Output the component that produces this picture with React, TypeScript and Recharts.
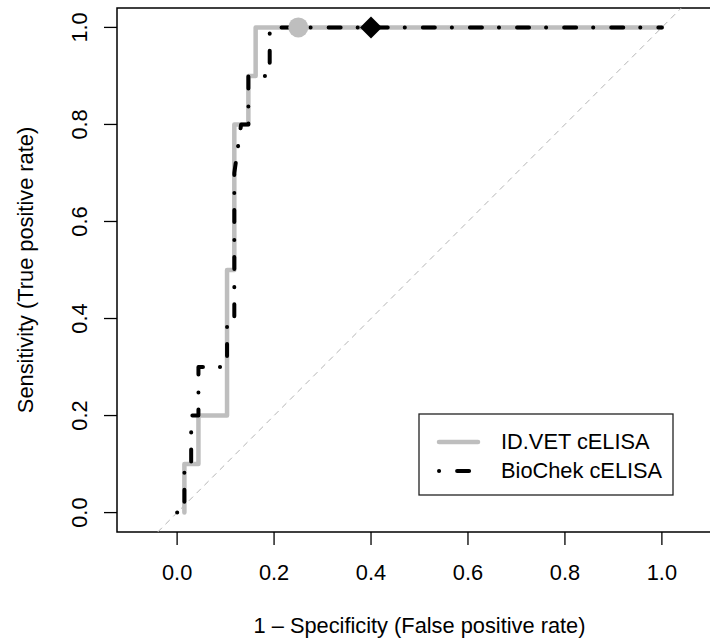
import { LineChart, Line, XAxis, YAxis, Scatter, ReferenceLine, ReferenceArea, Legend, Label } from "recharts"

// ROC curve vertices
const fprIdvet = [0.015, 0.015, 0.044, 0.044, 0.103, 0.103, 0.118, 0.118, 0.147, 0.147, 0.162, 0.162, 1.0]
const tprIdvet = [0, 0.1, 0.1, 0.2, 0.2, 0.5, 0.5, 0.8, 0.8, 0.9, 0.9, 1.0, 1.0]

const fprBiochek = [0, 0.015, 0.015, 0.029, 0.029, 0.044, 0.044, 0.103, 0.103, 0.118, 0.118, 0.132, 0.147, 0.147, 0.191, 0.191, 1.0]
const tprBiochek = [0, 0, 0.1, 0.1, 0.2, 0.2, 0.3, 0.3, 0.4, 0.4, 0.7, 0.8, 0.8, 0.9, 0.9, 1.0, 1.0]

// best thresholds
const idvetBest = [{ x: 0.25, y: 1.0 }]
const biochekBest = [{ x: 0.4, y: 1.0 }]

const ticks = [0, 0.2, 0.4, 0.6, 0.8, 1.0]
const seriesNames = ["ID.VET cELISA", "BioChek cELISA"]

const X_DOMAIN: [number, number] = [-0.124, 1.124]
const Y_DOMAIN: [number, number] = [-0.04, 1.04]

const FONT = "'Liberation Sans', Arial, Helvetica, sans-serif"
const FS = 21.8
const GRAY = "#bebebe"
const DOTDASH = "0.1 18 12 17"

const idvetData = fprIdvet.map((x, i) => ({ x, y: tprIdvet[i] }))
const biochekData = fprBiochek.map((x, i) => ({ x, y: tprBiochek[i] }))

function XTick(props: any) {
  const { x, y, payload } = props
  return (
    <g>
      <line x1={x} x2={x} y1={y} y2={y + 13} stroke="#000" strokeWidth={1.3} />
      <text x={x} y={y + 48} textAnchor="middle" fontSize={FS} fontFamily={FONT} fill="#000">
        {payload.value.toFixed(1)}
      </text>
    </g>
  )
}

function YTick(props: any) {
  const { x, y, payload } = props
  return (
    <g>
      <line x1={x} x2={x - 13} y1={y} y2={y} stroke="#000" strokeWidth={1.3} />
      <text
        x={x - 30}
        y={y}
        textAnchor="middle"
        fontSize={FS}
        fontFamily={FONT}
        fill="#000"
        transform={`rotate(-90, ${x - 30}, ${y})`}
      >
        {payload.value.toFixed(1)}
      </text>
    </g>
  )
}

function renderLegend() {
  return (
    <svg width={256} height={83} style={{ display: "block" }}>
      <rect x={1} y={1} width={254} height={81} fill="#fff" stroke="#222" strokeWidth={1.3} />
      <line x1={21} x2={60} y1={29} y2={29} stroke={GRAY} strokeWidth={4.5} strokeLinecap="round" />
      <line x1={21} x2={64} y1={58} y2={58} stroke="#000" strokeWidth={4} strokeLinecap="round" strokeDasharray={DOTDASH} />
      <text x={83} y={36} fontSize={FS} fontFamily={FONT} fill="#000">{seriesNames[0]}</text>
      <text x={83} y={65} fontSize={FS} fontFamily={FONT} fill="#000">{seriesNames[1]}</text>
    </svg>
  )
}

export default function App() {
  return (
    <div style={{ position: "fixed", left: 0, top: 0, width: 710, height: 639, overflow: "hidden", background: "#fff" }}>
      <LineChart width={730} height={639} margin={{ top: 8, right: 8, bottom: 0, left: 0 }}>
        <XAxis
          type="number"
          dataKey="x"
          domain={X_DOMAIN}
          ticks={ticks}
          allowDataOverflow
          axisLine={false}
          tickLine={false}
          tickSize={0}
          tickMargin={0}
          height={107}
          tick={<XTick />}
        >
          <Label
            content={(p: any) => {
              const vb = p.viewBox
              return (
                <text x={vb.x + vb.width / 2} y={vb.y + 101} textAnchor="middle" fontSize={FS} fontFamily={FONT} fill="#000">
                  1 – Specificity (False positive rate)
                </text>
              )
            }}
          />
        </XAxis>
        <YAxis
          type="number"
          dataKey="y"
          domain={Y_DOMAIN}
          ticks={ticks}
          allowDataOverflow
          axisLine={false}
          tickLine={false}
          tickSize={0}
          tickMargin={0}
          width={117}
          tick={<YTick />}
        >
          <Label
            content={(p: any) => {
              const vb = p.viewBox
              const cx = vb.x + 33
              const cy = vb.y + vb.height / 2
              return (
                <text x={cx} y={cy} textAnchor="middle" fontSize={FS} fontFamily={FONT} fill="#000" transform={`rotate(-90, ${cx}, ${cy})`}>
                  Sensitivity (True positive rate)
                </text>
              )
            }}
          />
        </YAxis>
        <ReferenceArea x1={X_DOMAIN[0]} x2={X_DOMAIN[1]} y1={Y_DOMAIN[0]} y2={Y_DOMAIN[1]} fill="none" stroke="#000" strokeWidth={1.5} />
        <ReferenceLine
          segment={[{ x: -0.04, y: -0.04 }, { x: 1.04, y: 1.04 }]}
          stroke="#b5b5b5"
          strokeWidth={1}
          strokeDasharray="6 5"
        />
        <Line
          data={idvetData}
          dataKey="y"
          type="linear"
          stroke={GRAY}
          strokeWidth={4.5}
          strokeLinejoin="round"
          strokeLinecap="round"
          dot={false}
          activeDot={false}
          isAnimationActive={false}
        />
        <Line
          data={biochekData}
          dataKey="y"
          type="linear"
          stroke="#000"
          strokeWidth={4}
          strokeLinejoin="round"
          strokeLinecap="round"
          strokeDasharray={DOTDASH}
          dot={false}
          activeDot={false}
          isAnimationActive={false}
        />
        <Scatter
          data={idvetBest}
          dataKey="y"
          isAnimationActive={false}
          shape={(p: any) => <circle cx={p.cx} cy={p.cy} r={10} fill={GRAY} />}
        />
        <Scatter
          data={biochekBest}
          dataKey="y"
          isAnimationActive={false}
          shape={(p: any) => (
            <polygon
              points={`${p.cx},${p.cy - 11} ${p.cx + 11},${p.cy} ${p.cx},${p.cy + 11} ${p.cx - 11},${p.cy}`}
              fill="#000"
            />
          )}
        />
        <Legend
          layout="horizontal"
          verticalAlign="middle"
          align="center"
          content={renderLegend}
          wrapperStyle={{ position: "absolute", left: 418, top: 413, width: 256, height: 83 }}
        />
      </LineChart>
    </div>
  )
}
